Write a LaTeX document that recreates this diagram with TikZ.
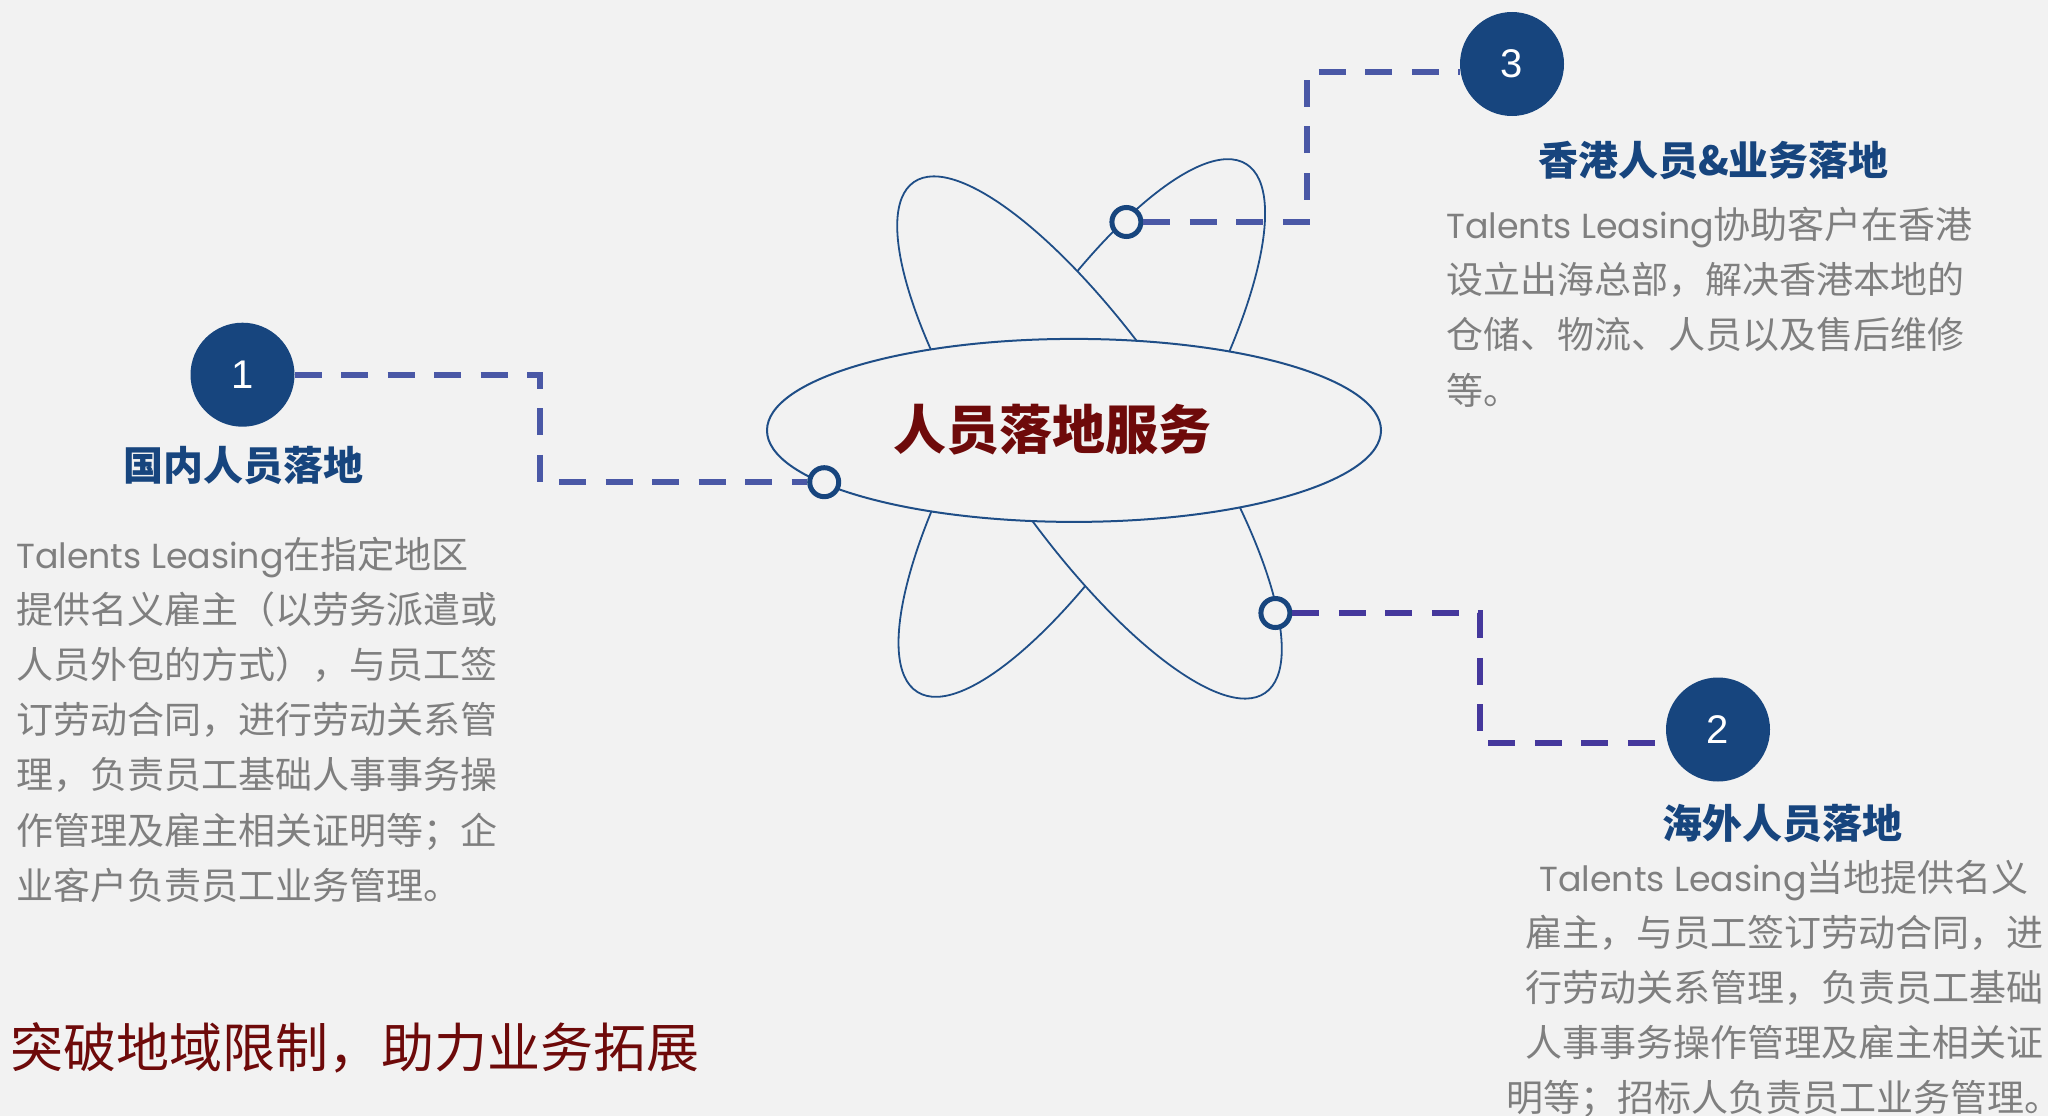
\documentclass[tikz,border=0pt]{standalone}
\usepackage{fontspec}
\setmainfont{Noto Sans CJK SC}
\newfontfamily\latfont{Poppins}[Scale=0.94]
\newfontfamily\numfont{Liberation Sans}
\usetikzlibrary{shapes.geometric}
\definecolor{bgc}{HTML}{F2F2F2}
\definecolor{navy}{HTML}{17457E}
\definecolor{orbit}{HTML}{1F4E87}
\definecolor{dashA}{HTML}{4A58A6}
\definecolor{dashB}{HTML}{45389C}
\definecolor{txtgray}{HTML}{7F7F7F}
\definecolor{darkred}{HTML}{6E0A0A}
\newcommand{\tlname}{{\latfont Talents Leasing}}
\begin{document}
\begin{tikzpicture}[x=1pt,y=-1pt,
  bignum/.style={circle,fill=navy,draw=none,minimum size=104pt,inner sep=0pt,text=white,font=\numfont\fontsize{40}{40}\selectfont},
  dot/.style={circle,draw=navy,line width=5pt,fill=bgc,minimum size=29pt,inner sep=0pt},
  conn/.style={line width=6pt,dash pattern=on 27pt off 19.5pt},
  petal/.style={draw=orbit,line width=1.8pt,fill=bgc},
  head/.style={anchor=base,inner sep=0pt,text=navy,font=\bfseries\fontsize{40}{40}\selectfont},
  body/.style={anchor=base west,inner sep=0pt,text=txtgray,font=\fontsize{37}{37}\selectfont},
  bodyc/.style={anchor=base,inner sep=0pt,text=txtgray,font=\fontsize{37}{37}\selectfont},
  redtxt/.style={inner sep=0pt,text=darkred},
]
\path[use as bounding box, fill=bgc] (0,0) rectangle (2048,1116);

% orbits
\coordinate (pcb) at (1081.8,428);
\coordinate (pca) at (1089.5,437.5);
\draw[petal, rotate around={58.1:(pcb)}] (pcb) ellipse [x radius=311pt, y radius=95.5pt];
\draw[petal, rotate around={-55.5:(pca)}] (pca) ellipse [x radius=310pt, y radius=95pt];
\node[ellipse, draw=orbit, line width=2pt, fill=bgc, minimum width=614pt, minimum height=183pt, inner sep=0pt] (hub) at (1074,430.4) {};
\node[redtxt, anchor=base, font=\bfseries\fontsize{53}{53}\selectfont] (hubtxt) at (1052.5,449.6) {人员落地服务};

% numbered circles
\node[bignum] (n1) at (242.5,374.7) {1};
\node[bignum] (n2) at (1718,729.5) {2};
\node[bignum] (n3) at (1512,64) {3};

% small dots
\node[dot] (s1) at (824.2,482.2) {};
\node[dot] (s3) at (1126.4,222) {};
\node[dot] (s2) at (1275.4,613) {};

% connectors
\coordinate (k1) at (540,374.7);
\draw[conn,dashA] (n1.east) -- (k1) |- (s1.west);
\coordinate (k3) at (1307,72);
\draw[conn,dashA] (s3.east) -| (k3) -- (k3 -| n3.west);
\coordinate (k2) at (1480,742.5);
\draw[conn,dashB] (s2.east) -| (k2) -- (k2 -| n2.west);

% headings
\node[head] (h1) at (243.5,480.2) {国内人员落地};
\node[head] (h3) at (1713.5,175.2) {香港人员\&业务落地};
\node[head] (h2) at (1782.5,838) {海外人员落地};

% body 1
\node[body] (b1a) at (16,568) {\tlname 在指定地区};
\node[body] (b1b) at (16,623.2) {提供名义雇主（以劳务派遣或};
\node[body] (b1c) at (16,678.4) {人员外包的方式），与员工签};
\node[body] (b1d) at (16,733.6) {订劳动合同，进行劳动关系管};
\node[body] (b1e) at (16,788.8) {理，负责员工基础人事事务操};
\node[body] (b1f) at (16,844) {作管理及雇主相关证明等；企};
\node[body] (b1g) at (16,899.2) {业客户负责员工业务管理。};

% body 3
\node[body] (b3a) at (1446.3,238) {\tlname 协助客户在香港};
\node[body] (b3b) at (1446.3,293.3) {设立出海总部，解决香港本地的};
\node[body] (b3c) at (1446.3,348.6) {仓储、物流、人员以及售后维修};
\node[body] (b3d) at (1446.3,404) {等。};

% body 2
\node[bodyc] (b2a) at (1784,891.5) {\tlname 当地提供名义};
\node[bodyc] (b2b) at (1784,946.5) {雇主，与员工签订劳动合同，进};
\node[bodyc] (b2c) at (1784,1001.5) {行劳动关系管理，负责员工基础};
\node[bodyc] (b2d) at (1784,1056.5) {人事事务操作管理及雇主相关证};
\node[bodyc] (b2e) at (1784,1111.5) {明等；招标人负责员工业务管理。};

% slogan
\node[redtxt, anchor=base west, font=\fontsize{53}{53}\selectfont] (slogan) at (10,1067.6) {突破地域限制，助力业务拓展};
\end{tikzpicture}
\end{document}
